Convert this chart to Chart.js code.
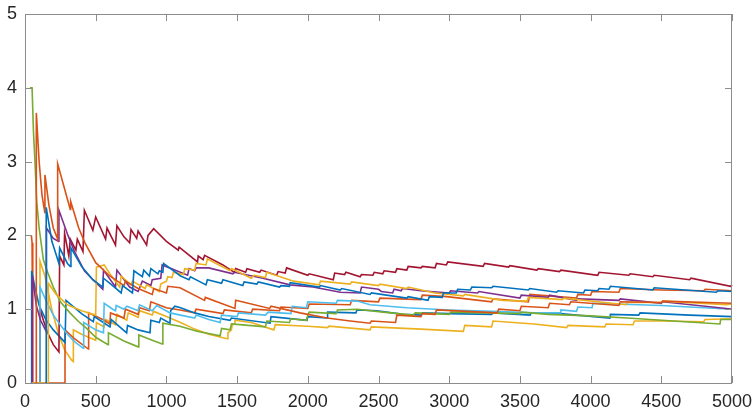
<!DOCTYPE html>
<html>
<head>
<meta charset="utf-8">
<script src="https://cdn.jsdelivr.net/npm/chart.js@4/dist/chart.umd.min.js"></script>
<style>
    html, body { margin: 0; padding: 0; background: #ffffff; }
    #wrap { width: 756px; height: 412px; }
</style>
</head>
<body>
<div id="wrap"><canvas id="chart" width="756" height="412"></canvas></div>
<script>
// axis ticks
const xTicks = [0, 500, 1000, 1500, 2000, 2500, 3000, 3500, 4000, 4500, 5000];
const yTicks = [0, 1, 2, 3, 4, 5];

// series, [x, y]
const blueA = [[150,0],[150,2.38],[190,1.92],[230,1.68],[240,1.62],[245,1.83],[300,1.62],[320,1.58],[325,1.83],[400,1.58],[480,1.40],[550,1.30],[555,1.42],[620,1.32],[680,1.22],[690,1.32],[760,1.22],[770,1.52],[830,1.44],[840,1.53],[880,1.45],[890,1.55],[940,1.48],[950,1.52],[975,1.50],[980,1.62],[1100,1.45],[1160,1.40],[1170,1.44],[1280,1.33],[1290,1.40],[1390,1.35],[1400,1.40],[1540,1.32],[1550,1.37],[1640,1.34],[1650,1.37],[1800,1.30],[1810,1.32],[1870,1.31],[1875,1.36],[2080,1.30],[2090,1.32],[2230,1.26],[2240,1.28],[2440,1.20],[2450,1.22],[2700,1.15],[2710,1.17],[2850,1.12],[2860,1.17],[2950,1.16],[2960,1.22],[3050,1.22],[3060,1.27],[3150,1.26],[3160,1.30],[3300,1.29],[3310,1.31],[3560,1.26],[3570,1.28],[3760,1.23],[3770,1.25],[3950,1.22],[3960,1.26],[4050,1.25],[4060,1.28],[4130,1.27],[4140,1.31],[4440,1.26],[4450,1.29],[4890,1.23],[4900,1.25],[5000,1.24]];

const orangeB = [[80,0],[80,3.66],[100,3.0],[120,2.55],[141,2.3],[141,2.82],[170,2.4],[200,2.1],[231,1.95],[231,2.97],[270,2.7],[320,2.35],[323,2.46],[380,2.1],[424,1.9],[500,1.63],[600,1.45],[700,1.32],[710,1.38],[800,1.28],[900,1.2],[910,1.28],[1000,1.22],[1010,1.31],[1096,1.29],[1270,1.12],[1275,1.16],[1485,1.01],[1490,1.12],[1730,1.01],[1740,1.04],[1945,0.95],[2136,0.88],[2300,0.84],[2440,0.81],[2450,0.84],[2620,0.82],[2630,0.92],[2800,0.90],[2810,0.94],[2900,0.93],[2910,0.99],[3340,0.95],[3350,1.0],[3500,0.98],[3510,1.04],[3700,1.02],[3710,1.08],[3850,1.06],[3860,1.10],[4200,1.05],[4210,1.10],[4500,1.09],[4510,1.11],[5000,1.08]];

const yellowA = [[47,0],[165,0],[165,1.35],[220,1.2],[300,1.06],[400,0.98],[500,0.92],[505,1.57],[560,1.6],[600,1.48],[670,1.30],[680,1.45],[750,1.33],[760,1.38],[850,1.28],[860,1.33],[950,1.24],[960,1.34],[1000,1.38],[1010,1.44],[1040,1.43],[1050,1.50],[1120,1.47],[1130,1.55],[1200,1.53],[1210,1.62],[1280,1.60],[1290,1.68],[1450,1.52],[1460,1.55],[1600,1.42],[1620,1.46],[1700,1.43],[1710,1.50],[1900,1.38],[2080,1.33],[2090,1.38],[2300,1.34],[2310,1.37],[2500,1.32],[2510,1.34],[2700,1.28],[2710,1.30],[2900,1.22],[3100,1.18],[3110,1.20],[3380,1.12],[3550,1.11],[3560,1.16],[3800,1.13],[3810,1.15],[4250,1.06],[4260,1.09],[4500,1.09],[4510,1.11],[4960,1.06],[5000,1.07]];

const purple = [[52,0],[52,1.45],[80,1.05],[110,0.85],[150,0.7],[152,2.1],[200,1.96],[235,1.92],[240,2.34],[300,2.02],[350,1.78],[420,1.52],[480,1.40],[550,1.27],[555,1.53],[640,1.30],[650,1.53],[740,1.30],[800,1.24],[830,1.38],[890,1.32],[900,1.40],[960,1.42],[970,1.60],[1150,1.46],[1160,1.55],[1200,1.52],[1210,1.56],[1300,1.56],[1470,1.48],[1480,1.50],[1683,1.42],[1874,1.33],[2037,1.30],[2230,1.23],[2370,1.22],[2380,1.30],[2500,1.27],[2520,1.24],[2600,1.22],[2610,1.27],[2660,1.25],[2670,1.28],[2800,1.25],[3000,1.22],[3010,1.25],[3200,1.22],[3210,1.24],[3500,1.15],[3510,1.19],[3700,1.16],[3710,1.19],[3900,1.12],[3910,1.14],[4200,1.12],[4210,1.14],[4500,1.08],[4510,1.10],[4960,1.01],[5000,1.0]];

const green = [[35,4.0],[50,4.0],[60,3.4],[71,2.98],[83,2.46],[100,2.1],[130,1.67],[160,1.5],[200,1.30],[250,1.1],[318,0.95],[380,0.83],[436,0.74],[500,0.62],[587,0.52],[590,0.68],[700,0.57],[800,0.49],[805,0.65],[900,0.58],[970,0.53],[975,0.81],[1096,0.77],[1216,0.70],[1380,0.64],[1390,0.74],[1450,0.72],[1460,0.80],[1700,0.76],[1710,0.84],[1870,0.82],[1880,0.87],[1990,0.85],[2000,0.92],[2010,0.96],[2200,0.94],[2210,0.99],[2350,1.0],[2532,0.96],[2745,0.92],[2760,0.95],[3000,0.93],[3010,0.96],[3500,0.94],[3510,0.96],[3700,0.93],[4000,0.91],[4258,0.88],[4915,0.80],[4920,0.86],[5000,0.86]];

const lightBlue = [[106,0],[106,1.3],[141,1.15],[200,0.92],[295,0.67],[350,0.56],[412,0.47],[415,0.82],[500,0.72],[555,0.68],[560,1.08],[620,1.0],[640,0.98],[645,1.05],[700,1.0],[720,1.04],[800,0.98],[810,1.06],[900,0.98],[932,1.05],[1025,0.95],[1100,0.92],[1200,0.88],[1210,0.92],[1300,0.86],[1380,0.82],[1390,0.92],[1500,0.90],[1510,0.95],[1700,0.92],[1720,0.96],[1880,0.94],[1890,1.04],[1990,1.02],[2000,1.10],[2200,1.08],[2210,1.12],[2350,1.11],[2440,1.06],[2700,1.02],[3000,0.99],[3300,0.97],[3600,0.95],[3784,0.95],[3790,0.99],[3900,0.97],[3910,1.03],[4010,1.02],[4017,1.08],[4500,1.05],[5000,1.0]];

const darkRed = [[106,0],[106,1.0],[130,0.85],[160,0.68],[200,0.52],[240,0.42],[245,1.72],[275,1.6],[280,2.03],[310,1.72],[320,1.95],[360,1.8],[370,1.95],[410,1.78],[420,2.34],[480,2.07],[500,2.25],[570,1.95],[580,2.1],[640,1.87],[650,2.13],[700,1.98],[740,1.9],[750,2.08],[790,1.96],[800,2.06],[860,1.87],[870,2.0],[910,2.09],[1000,1.92],[1084,1.80],[1090,1.84],[1220,1.64],[1225,1.72],[1260,1.67],[1270,1.73],[1400,1.60],[1480,1.50],[1490,1.55],[1560,1.50],[1570,1.55],[1660,1.50],[1670,1.53],[1780,1.46],[1790,1.51],[1840,1.49],[1850,1.56],[2000,1.46],[2010,1.48],[2180,1.40],[2190,1.49],[2260,1.47],[2270,1.50],[2370,1.44],[2380,1.47],[2460,1.46],[2470,1.50],[2530,1.48],[2540,1.52],[2620,1.50],[2630,1.55],[2700,1.53],[2710,1.58],[2800,1.56],[2810,1.58],[2900,1.56],[2910,1.62],[2980,1.60],[2990,1.64],[3240,1.58],[3250,1.62],[3420,1.57],[3430,1.59],[3620,1.53],[3630,1.55],[3780,1.51],[3790,1.53],[4050,1.46],[4060,1.50],[4270,1.46],[4280,1.48],[4440,1.44],[4450,1.46],[4700,1.40],[4710,1.42],[4990,1.31],[5000,1.33]];

const blueB = [[47,0],[47,1.52],[70,1.3],[100,1.05],[150,0.85],[200,0.72],[283,0.55],[290,1.12],[400,0.94],[483,0.83],[490,0.9],[601,0.76],[610,0.86],[719,0.68],[725,0.78],[800,0.72],[884,0.68],[890,0.85],[950,0.82],[960,0.88],[1025,0.81],[1030,0.98],[1060,1.04],[1100,1.02],[1200,0.95],[1300,0.90],[1450,0.85],[1460,0.88],[1733,0.81],[1740,0.9],[1994,0.85],[2000,0.9],[2136,0.88],[2140,0.96],[2340,0.95],[2348,0.99],[2489,0.98],[2674,0.93],[2800,0.92],[2810,0.95],[3000,0.94],[3300,0.93],[3310,0.95],[3572,0.92],[3580,0.95],[3784,0.94],[4137,0.88],[4140,0.93],[4340,0.92],[4350,0.95],[4700,0.92],[5000,0.90]];

const orangeA = [[45,2.0],[50,1.9],[55,0],[283,0],[283,0.72],[350,0.6],[448,0.46],[450,0.95],[560,0.85],[600,0.80],[605,0.95],[700,0.88],[710,1.0],[800,0.93],[810,1.02],[880,0.98],[890,1.10],[1000,1.02],[1096,0.99],[1200,0.95],[1210,1.0],[1400,0.94],[1410,0.99],[1600,0.95],[1610,1.0],[1800,0.98],[1810,1.03],[2000,1.01],[2010,1.07],[2300,1.06],[2310,1.12],[2500,1.10],[2510,1.15],[2800,1.13],[2810,1.19],[2983,1.17],[3300,1.10],[3310,1.14],[3560,1.10],[3570,1.20],[3700,1.18],[3900,1.15],[3910,1.20],[4000,1.19],[4010,1.24],[4200,1.23],[4210,1.28],[4500,1.26],[4800,1.25],[4810,1.27],[5000,1.25]];

const yellowB = [[47,0],[106,0],[106,1.65],[141,1.45],[189,1.0],[236,0.67],[280,0.45],[330,0.31],[342,0.29],[342,0.72],[400,0.66],[500,0.58],[505,0.82],[560,0.76],[570,0.86],[640,0.79],[650,0.93],[720,0.85],[730,0.95],[800,0.89],[810,0.98],[900,0.92],[910,0.97],[1000,0.9],[1100,0.82],[1200,0.73],[1300,0.66],[1430,0.6],[1435,0.68],[1460,0.72],[1465,0.78],[1480,0.8],[1485,0.85],[1600,0.82],[1760,0.72],[1770,0.79],[2000,0.77],[2140,0.75],[2150,0.77],[2440,0.72],[2450,0.76],[2800,0.73],[3100,0.70],[3110,0.78],[3300,0.76],[3310,0.84],[3600,0.80],[3831,0.75],[3840,0.78],[4100,0.76],[4110,0.80],[4300,0.79],[4310,0.84],[4500,0.84],[4800,0.83],[4810,0.86],[5000,0.87]];

const seriesList = [
    { data: blueA, color: '#0072BD' },
    { data: orangeB, color: '#D95319' },
    { data: yellowA, color: '#EDB120' },
    { data: purple, color: '#7E2F8E' },
    { data: green, color: '#77AC30' },
    { data: lightBlue, color: '#4DBEEE' },
    { data: darkRed, color: '#A2142F' },
    { data: blueB, color: '#0072BD' },
    { data: orangeA, color: '#D95319' },
    { data: yellowB, color: '#EDB120' },
];

const axisColor = '#8c8c8c';
const textColor = '#262626';
const tickFont = { family: 'Arial, "Liberation Sans", Helvetica, sans-serif', size: 18 };

// box round the plot with inward ticks on all four sides
const boxPlugin = {
    id: 'matlabBox',
    afterDatasetsDraw(chart) {
        const { ctx, chartArea: area, scales } = chart;
        const tickLen = 7;
        ctx.save();
        ctx.strokeStyle = axisColor;
        ctx.lineWidth = 1;
        ctx.strokeRect(area.left + 0.5, area.top + 0.5, area.right - area.left - 1, area.bottom - area.top);
        ctx.beginPath();
        xTicks.forEach((value) => {
            const px = Math.round(scales.x.getPixelForValue(value)) + 0.5;
            ctx.moveTo(px, area.bottom);
            ctx.lineTo(px, area.bottom - tickLen);
            ctx.moveTo(px, area.top);
            ctx.lineTo(px, area.top + tickLen);
        });
        yTicks.forEach((value) => {
            const py = Math.round(scales.y.getPixelForValue(value)) + 0.5;
            ctx.moveTo(area.left, py);
            ctx.lineTo(area.left + tickLen, py);
            ctx.moveTo(area.right, py);
            ctx.lineTo(area.right - tickLen, py);
        });
        ctx.stroke();
        ctx.restore();
    },
};

function renderChart() {
    const canvas = document.getElementById('chart');

    new Chart(canvas, {
        type: 'line',
        data: {
            datasets: seriesList.map((item) => ({
                data: item.data.map(([x, y]) => ({ x, y })),
                borderColor: item.color,
                backgroundColor: item.color,
                borderWidth: 1.6,
                pointRadius: 0,
                tension: 0,
                fill: false,
                clip: 3,
            })),
        },
        options: {
            responsive: false,
            animation: false,
            layout: {
                padding: { top: 14, right: 24, left: 0, bottom: 0 },
            },
            plugins: {
                legend: { display: false },
                tooltip: { enabled: false },
            },
            scales: {
                x: {
                    type: 'linear',
                    min: 0,
                    max: 5000,
                    afterFit: (scale) => {
                        scale.height = 29;
                        scale.paddingLeft = 0;
                        scale.paddingRight = 0;
                    },
                    afterBuildTicks: (scale) => { scale.ticks = xTicks.map((value) => ({ value })); },
                    grid: { display: false, drawTicks: false },
                    border: { display: false },
                    ticks: {
                        autoSkip: false,
                        maxRotation: 0,
                        padding: 8,
                        color: textColor,
                        font: tickFont,
                        callback: (value) => String(value),
                    },
                },
                y: {
                    type: 'linear',
                    min: 0,
                    max: 5,
                    afterFit: (scale) => {
                        scale.width = 25;
                        scale.paddingTop = 0;
                        scale.paddingBottom = 0;
                    },
                    afterBuildTicks: (scale) => { scale.ticks = yTicks.map((value) => ({ value })); },
                    grid: { display: false, drawTicks: false },
                    border: { display: false },
                    ticks: {
                        padding: 8,
                        color: textColor,
                        font: tickFont,
                        callback: (value) => String(value),
                    },
                },
            },
        },
        plugins: [boxPlugin],
    });
}

renderChart();
</script>
</body>
</html>
